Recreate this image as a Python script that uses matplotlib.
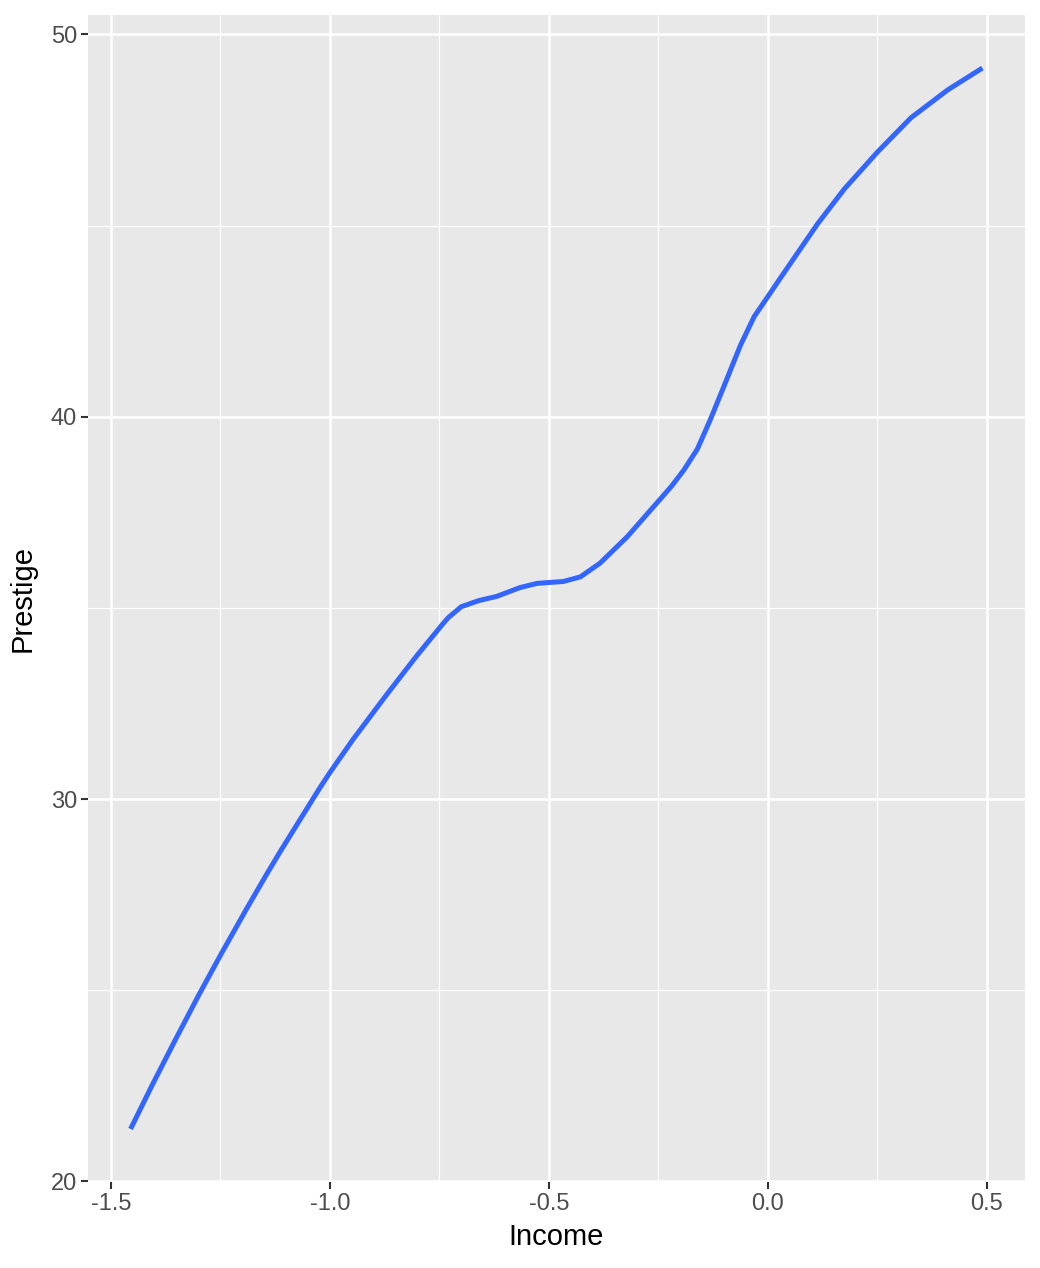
import matplotlib
matplotlib.use("Agg")
import matplotlib.pyplot as plt
import numpy as np

# loess fit
income = [-1.455, -1.406, -1.352, -1.299, -1.249, -1.192, -1.146, -1.112, -1.023, -1.0,
          -0.947, -0.871, -0.802, -0.745, -0.73, -0.70, -0.66, -0.619, -0.566, -0.527,
          -0.467, -0.428, -0.383, -0.321, -0.249, -0.220, -0.192, -0.161, -0.131, -0.100,
          -0.062, -0.031, 0.0, 0.026, 0.06, 0.114, 0.175, 0.251, 0.327, 0.411, 0.49]
prestige = [21.37, 22.51, 23.72, 24.88, 25.93, 27.09, 28.0, 28.65, 30.29, 30.69,
            31.56, 32.72, 33.74, 34.54, 34.74, 35.03, 35.19, 35.30, 35.53, 35.64,
            35.69, 35.81, 36.17, 36.86, 37.80, 38.18, 38.60, 39.15, 39.93, 40.80,
            41.88, 42.62, 43.14, 43.58, 44.15, 45.05, 45.96, 46.93, 47.82, 48.55, 49.12]

x_ticks = [-1.5, -1.0, -0.5, 0.0, 0.5]
y_ticks = [20, 30, 40, 50]

plt.rcParams['font.family'] = ['Liberation Sans', 'DejaVu Sans']

fig = plt.figure(figsize=(10.4, 12.68), dpi=100)
ax = fig.add_axes([88 / 1040, 86 / 1268, 937 / 1040, 1167 / 1268])
ax.set_facecolor('#E8E8E8')

ax.plot(income, prestige, color='#3366FF', lw=3.6, solid_capstyle='butt',
        solid_joinstyle='round', zorder=3)

x = np.array(income)
y = np.array(prestige)
xr = x.max() - x.min()
yr = y.max() - y.min()
ax.set_xlim(x.min() - 0.05 * xr, x.max() + 0.05 * xr)
ax.set_ylim(y.min() - 0.05 * yr, y.max() + 0.05 * yr)

ax.set_xticks(x_ticks)
ax.set_xticklabels([f"{v:.1f}" for v in x_ticks])
ax.set_yticks(y_ticks)
ax.set_yticklabels([str(v) for v in y_ticks])
ax.set_xticks([-1.25, -0.75, -0.25, 0.25], minor=True)
ax.set_yticks([25, 35, 45], minor=True)

ax.grid(which='major', color='white', lw=1.8)
ax.grid(which='minor', color='white', lw=0.9)
ax.set_axisbelow(True)
for s in ax.spines.values():
    s.set_visible(False)

ax.tick_params(which='major', length=5, width=1.5, color='#333333',
               labelcolor='#4D4D4D', labelsize=17, pad=3)
ax.tick_params(which='minor', length=0)

ax.set_xlabel('Income', fontsize=21, color='black', labelpad=6)
ax.set_ylabel('Prestige', fontsize=21, color='black', labelpad=10)

fig.savefig('out.png', dpi=100)
